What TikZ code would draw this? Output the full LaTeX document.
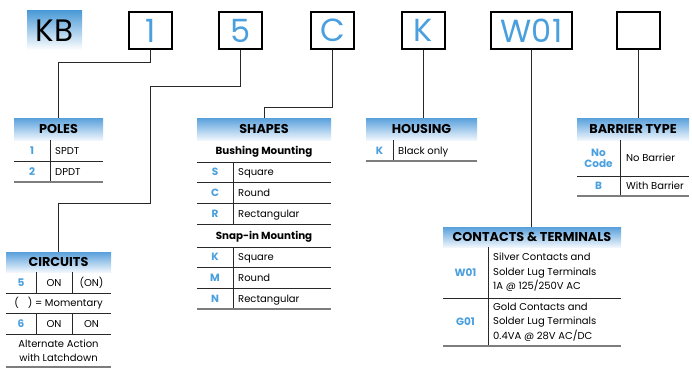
\documentclass[tikz,border=0pt]{standalone}
\usepackage{fontspec}
\setmainfont{Poppins}
\definecolor{codeblue}{RGB}{74,160,222}
\definecolor{hdrtop}{RGB}{88,160,220}
\definecolor{hdrbot}{RGB}{240,246,252}
\definecolor{kbtop}{RGB}{76,155,216}
\definecolor{linedark}{RGB}{40,40,40}
\definecolor{linegray}{RGB}{125,125,125}
\tikzset{
 topbox/.style={draw=black, line width=1.1pt, inner sep=0, minimum height=37pt, minimum width=43pt, text=codeblue, font=\fontsize{32}{32}\selectfont},
 kbbox/.style={top color=kbtop, bottom color=white, inner sep=0, minimum height=39pt, minimum width=55pt, text=black, font=\fontsize{31}{31}\selectfont},
 hdr/.style={top color=hdrtop, bottom color=hdrbot, inner sep=0, minimum height=22pt, font=\fontsize{12.8}{12.8}\selectfont\bfseries},
 code/.style={text=codeblue, font=\fontsize{10.5}{12}\selectfont\bfseries, inner sep=0, text height=7.4pt, text depth=0pt},
 desc/.style={anchor=west, font=\fontsize{10}{12}\selectfont, inner sep=0, text height=7.2pt, text depth=0pt},
 ctr/.style={font=\fontsize{10}{12}\selectfont, inner sep=0, text height=7.2pt, text depth=0pt},
 sub/.style={font=\fontsize{10.3}{12}\selectfont\bfseries, inner sep=0, text height=7.2pt, text depth=0pt},
 multi/.style={font=\fontsize{10}{14.5}\selectfont, inner sep=0},
 rule/.style={draw=linedark, line width=0.9pt},
 brule/.style={draw=linegray, line width=1.3pt},
 conn/.style={draw=linedark, line width=1pt},
}
\begin{document}
\begin{tikzpicture}[x=1pt,y=-1pt]
\useasboundingbox[fill=white] (0,0) rectangle (692,369);
% top code boxes
\node[kbbox] (kb) at (54.5,30.5) {KB};
\node[topbox] (b1) at (150.5,30.5) {1};
\node[topbox] (b5) at (240.5,30.5) {5};
\node[topbox] (bC) at (332.5,30.5) {C};
\node[topbox] (bK) at (423.5,30.5) {K};
\node[topbox, minimum width=81pt] (bW) at (531.5,30.5) {W01};
\node[topbox] (bE) at (638.5,30.5) {};
% headers
\node[hdr, minimum width=89pt] (poles) at (58.5,129) {POLES};
\node[hdr, minimum width=134pt] (shapes) at (264,129) {SHAPES};
\node[hdr, minimum width=111pt] (housing) at (421.5,129) {HOUSING};
\node[hdr, minimum width=112pt] (barrier) at (633,129) {BARRIER TYPE};
\node[hdr, minimum width=178pt, minimum height=20pt] (contacts) at (532,237) {CONTACTS \& TERMINALS};
\node[hdr, minimum width=105pt, minimum height=20pt] (circuits) at (58.5,262) {CIRCUITS};
% connectors
\draw[conn] (b1.south) -- ++(0,13) -| (poles.north);
\draw[conn] (b5.south) |- (150,86) -- (150,203) -| (circuits.north);
\draw[conn] (bC.south) -- ++(0,58) -| (shapes.north);
\draw[conn] (bK.south) -- (bK.south |- housing.north);
\draw[conn] (bW.south) -- (bW.south |- contacts.north);
\draw[conn] (bE.south) -- (bE.south |- barrier.north);
% POLES table
\node[code] (p1c) at (32,151) {1};
\node[desc] (p1d) at (55,151) {SPDT};
\node[code] (p2c) at (32,171.5) {2};
\node[desc] (p2d) at (55,171.5) {DPDT};
\draw[rule] (14,161) -- (103,161);
\draw[rule] (50,140) -- (50,182);
\draw[brule] (14,182) -- (103,182);
% SHAPES table
\node[sub] (bush) at (264,151) {Bushing Mounting};
\draw[rule] (197,162) -- (331,162);
\node[code] (sS) at (215,172) {S};
\node[desc] (sSd) at (238,172) {Square};
\node[code] (sC) at (215,192.5) {C};
\node[desc] (sCd) at (238,192.5) {Round};
\node[code] (sR) at (215,213.5) {R};
\node[desc] (sRd) at (238,213.5) {Rectangular};
\draw[rule] (197,182) -- (331,182);
\draw[rule] (197,203) -- (331,203);
\draw[rule] (197,224) -- (331,224);
\draw[rule] (233,162) -- (233,224);
\node[sub] (snap) at (264,235.5) {Snap-in Mounting};
\draw[rule] (197,247) -- (331,247);
\node[code] (sK) at (215,257) {K};
\node[desc] (sKd) at (238,257) {Square};
\node[code] (sM) at (215,277.5) {M};
\node[desc] (sMd) at (238,277.5) {Round};
\node[code] (sN) at (215,298.5) {N};
\node[desc] (sNd) at (238,298.5) {Rectangular};
\draw[rule] (197,267) -- (331,267);
\draw[rule] (197,288) -- (331,288);
\draw[rule] (233,247) -- (233,309);
\draw[brule] (197,309) -- (331,309);
% HOUSING table
\node[code] (hK) at (379.5,150.5) {K};
\node[desc] (hKd) at (398,150.5) {Black only};
\draw[rule] (393,140) -- (393,161);
\draw[brule] (366,161) -- (477,161);
% BARRIER table
\node[multi, text=codeblue, font=\fontsize{10.5}{11}\selectfont\bfseries, align=center] (bN) at (598.5,158) {No\\Code};
\node[desc] (bNd) at (626,158) {No Barrier};
\node[code] (bB) at (598.5,186) {B};
\node[desc] (bBd) at (626,186) {With Barrier};
\draw[rule] (620,140) -- (620,196);
\draw[rule] (577,176) -- (689,176);
\draw[brule] (577,196) -- (689,196);
% CONTACTS table
\node[code] (cW) at (465.5,272.5) {W01};
\node[multi, anchor=west, align=left] (cWd) at (493,272.5) {Silver Contacts and\\Solder Lug Terminals\\1A @ 125/250V AC};
\node[code] (cG) at (465.5,322) {G01};
\node[multi, anchor=west, align=left] (cGd) at (493,322) {Gold Contacts and\\Solder Lug Terminals\\0.4VA @ 28V AC/DC};
\draw[rule] (488,247) -- (488,346);
\draw[rule] (443,298) -- (621,298);
\draw[brule] (443,346) -- (621,346);
% CIRCUITS table
\node[code] (c5) at (21,282.5) {5};
\node[ctr] (c5a) at (54,282.5) {ON};
\node[ctr] (c5b) at (91.5,282.5) {(ON)};
\draw[rule] (36,272) -- (36,293);
\draw[rule] (72,272) -- (72,293);
\draw[rule] (6,293) -- (111,293);
\node[ctr] (cmom) at (58.5,303) {(\hspace{9pt}) = Momentary};
\draw[rule] (6,313) -- (111,313);
\node[code] (c6) at (21,323.5) {6};
\node[ctr] (c6a) at (54,323.5) {ON};
\node[ctr] (c6b) at (91.5,323.5) {ON};
\draw[rule] (36,313) -- (36,334);
\draw[rule] (72,313) -- (72,334);
\draw[rule] (6,334) -- (111,334);
\node[multi, align=center, font=\fontsize{10}{14}\selectfont] (calt) at (58.5,350.5) {Alternate Action\\with Latchdown};
\draw[brule] (6,367) -- (111,367);
\end{tikzpicture}
\end{document}
